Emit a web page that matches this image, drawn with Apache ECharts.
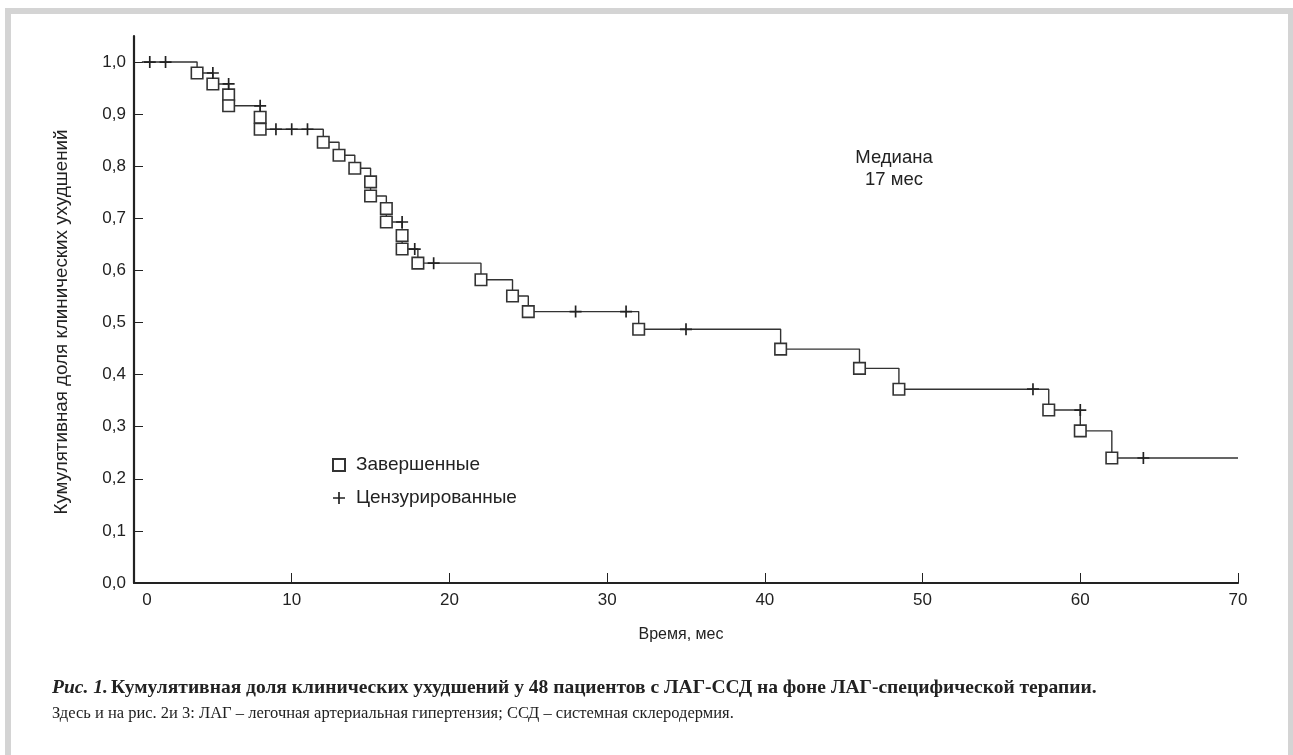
<!DOCTYPE html>
<html><head><meta charset="utf-8">
<script src="https://cdn.jsdelivr.net/npm/echarts@6/dist/echarts.min.js"></script>
<style>html,body{margin:0;padding:0;background:#fff}#c{width:1293px;height:755px}</style>
</head><body><div id="c"></div>
<script>
// Events (completed) — time in months, cumulative proportion after the event
const eventTimes  = [4, 5, 6, 6, 8, 8, 12, 13, 14, 15, 15, 16, 16, 17, 17, 18, 22, 24, 25, 32, 41, 46, 48.5, 58, 60, 62];
const eventValues = [0.979, 0.958, 0.937, 0.916, 0.894, 0.871, 0.846, 0.821, 0.796, 0.770, 0.743, 0.719, 0.693, 0.667, 0.641, 0.614, 0.582, 0.551, 0.521, 0.487, 0.449, 0.412, 0.372, 0.332, 0.292, 0.240];
// Censored observations
const censorTimes  = [1, 2, 5, 6, 8, 9, 10, 11, 17, 17.8, 19, 28, 31.2, 35, 57, 60, 64];
const censorValues = [1, 1, 0.979, 0.958, 0.916, 0.871, 0.871, 0.871, 0.693, 0.641, 0.614, 0.521, 0.521, 0.487, 0.372, 0.332, 0.240];
const curveStartTime = 0.5, curveStartValue = 1.0, curveEndTime = 70;
const xTicks = [0, 10, 20, 30, 40, 50, 60, 70];
const yTicks = [0, 0.1, 0.2, 0.3, 0.4, 0.5, 0.6, 0.7, 0.8, 0.9, 1.0];
const seriesNames = ['Завершенные', 'Цензурированные'];

const chart = echarts.init(document.getElementById('c'), null, {renderer: 'canvas'});
const eventData = eventTimes.map((t, i) => [t, eventValues[i]]);
const censorData = censorTimes.map((t, i) => [t, censorValues[i]]);
const lineData = [[curveStartTime, curveStartValue]].concat(eventData, [[curveEndTime, eventValues[eventValues.length - 1]]]);
const plusPath = 'path://M4.3,0H5.7V10H4.3Z M0,4.3H10V5.7H0Z';
const FONT = '"Liberation Sans", Arial, Helvetica, sans-serif';
const SERIF = '"Liberation Serif", "Times New Roman", serif';
const ink = '#222';

chart.setOption({
  animation: false,
  backgroundColor: '#fff',
  textStyle: {fontFamily: FONT, color: ink},
  grid: {left: 134, right: 55, top: 36, bottom: 172, containLabel: false},
  xAxis: {
    type: 'value', min: 0, max: 70,
    axisLine: {show: true, onZero: false, lineStyle: {color: ink, width: 2.2}},
    axisTick: {show: true, inside: true, length: 10, lineStyle: {color: ink, width: 1}, customValues: xTicks.slice(1)},
    axisLabel: {
      customValues: xTicks, fontSize: 17, color: ink, margin: 9, fontFamily: FONT,
      formatter: v => v === 0 ? '{z|0}' : String(v),
      rich: {z: {padding: [0, 0, 0, 26], fontSize: 17, fontFamily: FONT, color: ink}}
    },
    splitLine: {show: false},
    name: 'Время, мес', nameLocation: 'middle', nameGap: 44,
    nameTextStyle: {fontSize: 16, color: ink, fontFamily: FONT, padding: [0, 10, 0, 0]}
  },
  yAxis: {
    type: 'value', min: 0, max: 1.05,
    axisLine: {show: true, onZero: false, lineStyle: {color: ink, width: 2.2}},
    axisTick: {show: true, inside: true, length: 9, lineStyle: {color: ink, width: 1}, customValues: yTicks.slice(1)},
    axisLabel: {
      customValues: yTicks, fontSize: 17, color: ink, margin: 8, fontFamily: FONT,
      formatter: v => v.toFixed(1).replace('.', ',')
    },
    splitLine: {show: false}
  },
  legend: {
    data: seriesNames, orient: 'vertical', left: 327, top: 450,
    itemWidth: 12, itemHeight: 12, itemGap: 13,
    textStyle: {fontSize: 19, color: ink, fontFamily: FONT, lineHeight: 20, padding: [0, 0, 0, 6]},
    selectedMode: false
  },
  series: [
    {
      type: 'line', name: 'curve', data: lineData, step: 'end', showSymbol: false, symbol: 'none',
      lineStyle: {color: '#333', width: 1.4}, z: 2, silent: true
    },
    {
      type: 'scatter', name: seriesNames[0], data: eventData, symbol: 'rect', symbolSize: 11.5,
      itemStyle: {color: '#fff', borderColor: '#333', borderWidth: 1.6, opacity: 1}, z: 4
    },
    {
      type: 'scatter', name: seriesNames[1], data: censorData, symbol: plusPath, symbolSize: 12,
      itemStyle: {color: '#222', opacity: 1}, z: 5
    }
  ],
  graphic: [
    {type: 'rect', shape: {x: 5, y: 8, width: 1288, height: 6}, style: {fill: '#d4d4d4'}, silent: true},
    {type: 'rect', shape: {x: 5, y: 8, width: 6, height: 747}, style: {fill: '#d4d4d4'}, silent: true},
    {type: 'rect', shape: {x: 1288, y: 8, width: 5, height: 747}, style: {fill: '#d4d4d4'}, silent: true},
    {type: 'text', x: 62, y: 322, rotation: Math.PI / 2, style: {text: 'Кумулятивная доля клинических ухудшений', fontSize: 18.8, fontFamily: FONT, fill: ink, textAlign: 'center', textVerticalAlign: 'middle'}},
    {type: 'text', x: 894, y: 158, style: {text: 'Медиана', fontSize: 18.5, fontFamily: FONT, fill: ink, textAlign: 'center', textVerticalAlign: 'middle'}},
    {type: 'text', x: 894, y: 180, style: {text: '17 мес', fontSize: 18.5, fontFamily: FONT, fill: ink, textAlign: 'center', textVerticalAlign: 'middle'}},
    {type: 'text', x: 52, y: 688, style: {
      text: '{i|Рис. 1.} {b|Кумулятивная доля клинических ухудшений у 48 пациентов с ЛАГ-ССД на фоне ЛАГ-специфической терапии.}',
      textVerticalAlign: 'middle',
      rich: {
        i: {fontFamily: SERIF, fontSize: 19.5, fontWeight: 'bold', fontStyle: 'italic', fill: ink},
        b: {fontFamily: SERIF, fontSize: 19.5, fontWeight: 'bold', fill: ink}
      }
    }},
    {type: 'text', x: 52, y: 714, style: {
      text: 'Здесь и на рис. 2и 3: ЛАГ – легочная артериальная гипертензия; ССД – системная склеродермия.',
      fontFamily: SERIF, fontSize: 16.5, fill: ink, textVerticalAlign: 'middle'
    }}
  ]
});
</script></body></html>
